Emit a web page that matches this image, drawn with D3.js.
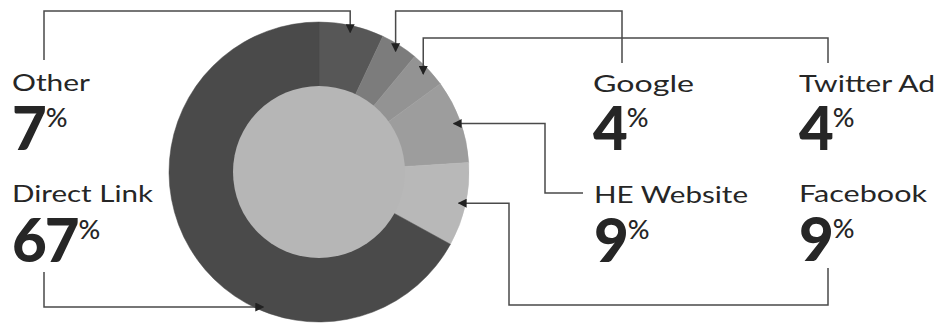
<!DOCTYPE html>
<html>
<head>
<meta charset="utf-8">
<script src="https://cdn.jsdelivr.net/npm/d3@7"></script>
<style>
  html, body { margin: 0; padding: 0; background: #ffffff; }
  svg { display: block; }
</style>
</head>
<body>
<svg id="chart" width="940" height="323"></svg>
<script>
// ---- data ----
const categories = ["Other", "Google", "Twitter Ad", "HE Website", "Facebook", "Direct Link"];
const values = [7, 4, 4, 9, 9, 67];
const valueLabels = ["7", "4", "4", "9", "9", "67"];

// ---- styling / layout ----
const sliceColors = ["#575757", "#7c7c7c", "#939393", "#9d9d9d", "#b8b8b8", "#4a4a4a"];
const innerColor = "#b6b6b6";
const cx = 319, cy = 172, rOuter = 150, rInner = 86, rTip = 143;
const textColor = "#262626";
const lineColor = "#4a4a4a";

// label anchor (x, label baseline, number baseline, label width)
const labelPos = [
  { x: 12,  yl: 91,  yn: 150, w: 78 },
  { x: 593, yl: 92,  yn: 150, w: 101 },
  { x: 799, yl: 92,  yn: 150, w: 136 },
  { x: 594, yl: 203, yn: 262, w: 154 },
  { x: 799, yl: 202, yn: 261, w: 128 },
  { x: 12,  yl: 202, yn: 262, w: 141 }
];

const svg = d3.select("#chart");

const pie = d3.pie().sort(null).value(d => d).startAngle(0).endAngle(2 * Math.PI);
const arcs = pie(values);
const arc = d3.arc().innerRadius(rInner - 2).outerRadius(rOuter);

const g = svg.append("g").attr("transform", `translate(${cx},${cy})`);
g.selectAll("path.slice")
  .data(arcs)
  .join("path")
  .attr("class", "slice")
  .attr("d", arc)
  .attr("fill", (d, i) => sliceColors[i])
  .attr("stroke", (d, i) => sliceColors[i])
  .attr("stroke-width", 0.5);

g.append("circle").attr("r", rInner).attr("fill", innerColor);

// ---- arrow marker ----
svg.append("defs").append("marker")
  .attr("id", "arrow")
  .attr("viewBox", "0 0 10 10")
  .attr("refX", 9).attr("refY", 5)
  .attr("markerWidth", 9).attr("markerHeight", 9)
  .attr("markerUnits", "userSpaceOnUse")
  .attr("orient", "auto")
  .append("path")
  .attr("d", "M0,0 L10,5 L0,10 Z")
  .attr("fill", "#222");

function tipFor(i) {
  const a = (arcs[i].startAngle + arcs[i].endAngle) / 2;
  return [cx + rTip * Math.sin(a), cy - rTip * Math.cos(a)];
}

// Leader routes
const routes = [];
{
  const t = tipFor(0);
  routes.push([[44, 60], [44, 11], [t[0], 11], t]);
}
{
  const t = tipFor(1);
  routes.push([[622, 63], [622, 11], [t[0], 11], t]);
}
{
  const t = tipFor(2);
  routes.push([[828, 63], [828, 38], [t[0], 38], t]);
}
{
  const t = tipFor(3);
  routes.push([[583, 193], [545, 193], [545, t[1]], t]);
}
{
  const t = tipFor(4);
  routes.push([[828, 268], [828, 305], [509, 305], [509, t[1]], t]);
}
{
  const yLine = 307, r = 146;
  const tx = cx - Math.sqrt(r * r - (yLine - cy) * (yLine - cy));
  routes.push([[44, 272], [44, yLine], [tx, yLine]]);
}

const line = d3.line();
svg.selectAll("path.leader")
  .data(routes)
  .join("path")
  .attr("class", "leader")
  .attr("d", d => line(d))
  .attr("fill", "none")
  .attr("stroke", lineColor)
  .attr("stroke-width", 1.5)
  .attr("marker-end", "url(#arrow)");

// ---- labels ----
const font = "Lato, 'Noto Sans', sans-serif";
categories.forEach((c, i) => {
  const p = labelPos[i];
  svg.append("text")
    .attr("x", p.x).attr("y", p.yl)
    .attr("font-family", font)
    .attr("font-size", 24)
    .attr("font-weight", 400)
    .attr("fill", textColor)
    .attr("textLength", p.w)
    .attr("lengthAdjust", "spacingAndGlyphs")
    .text(c);
  const t = svg.append("text")
    .attr("x", p.x).attr("y", p.yn)
    .attr("font-family", font)
    .attr("fill", textColor);
  t.append("tspan")
    .attr("font-size", 60)
    .attr("font-weight", 900)
    .attr("letter-spacing", -2)
    .text(valueLabels[i]);
  t.append("tspan")
    .attr("font-size", 27)
    .attr("font-weight", 500)
    .attr("dy", -23)
    .attr("dx", 1)
    .text("%");
});
</script>
</body>
</html>
